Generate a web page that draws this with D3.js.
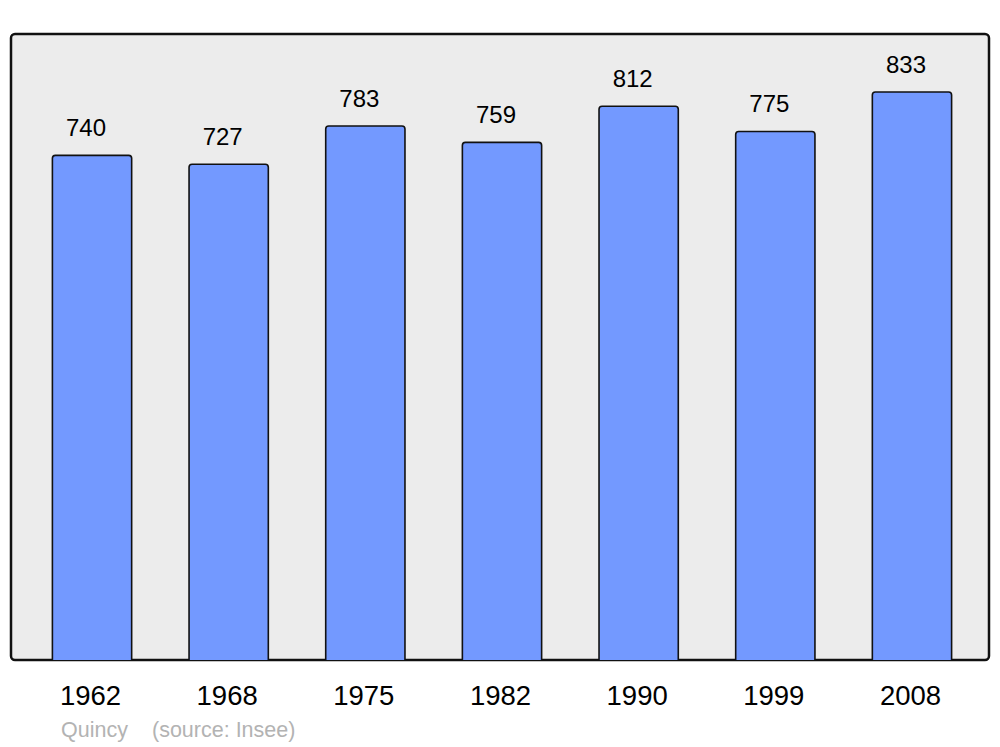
<!DOCTYPE html>
<html>
<head>
<meta charset="utf-8">
<script src="https://cdn.jsdelivr.net/npm/d3@7"></script>
<style>
	body { margin: 0; background: #fff; }
	text { font-family: "Liberation Sans", Arial, sans-serif; }
</style>
</head>
<body>
<svg id="chart" width="1000" height="747"></svg>
<script>
const years = ["1962", "1968", "1975", "1982", "1990", "1999", "2008"];
const population = [740, 727, 783, 759, 812, 775, 833];
const townName = "Quincy";
const sourceNote = "(source: Insee)";

const svg = d3.select("#chart");

const box = { left: 11, top: 34, right: 989, bottom: 660 };

// x positions of the bars
const x = d3.scaleBand()
	.domain(years)
	.range([23.7, 980.3])
	.paddingInner(0.42)
	.paddingOuter(0.21);

// population scale, starts at zero
const y = d3.scaleLinear()
	.domain([0, d3.max(population) * 1.102])
	.range([box.bottom, box.top]);

svg.append("rect")
	.attr("x", box.left)
	.attr("y", box.top)
	.attr("width", box.right - box.left)
	.attr("height", box.bottom - box.top)
	.attr("rx", 4)
	.attr("fill", "#ececec")
	.attr("stroke", "#111")
	.attr("stroke-width", 2.5);

const data = years.map((yr, i) => ({ year: yr, value: population[i] }));

svg.selectAll(".bar")
	.data(data)
	.enter().append("path")
	.attr("class", "bar")
	.attr("d", d => {
		// rounded top corners only
		const x0 = x(d.year), x1 = x0 + x.bandwidth();
		const y0 = y(d.value), y1 = box.bottom, r = 3;
		return `M${x0},${y1} L${x0},${y0 + r} Q${x0},${y0} ${x0 + r},${y0} L${x1 - r},${y0} Q${x1},${y0} ${x1},${y0 + r} L${x1},${y1}`;
	})
	.attr("fill", "#7399ff")
	.attr("stroke", "#111")
	.attr("stroke-width", 1.6);

// value labels above bars
svg.selectAll(".value")
	.data(data)
	.enter().append("text")
	.attr("class", "value")
	.attr("x", d => x(d.year) + x.bandwidth() / 2 - 6)
	.attr("y", d => y(d.value) - 19)
	.attr("text-anchor", "middle")
	.attr("font-size", 24)
	.attr("fill", "#000")
	.text(d => d.value);

// year labels under the box
svg.selectAll(".year")
	.data(data)
	.enter().append("text")
	.attr("class", "year")
	.attr("x", d => x(d.year) + x.bandwidth() / 2 - 1.5)
	.attr("y", 705)
	.attr("text-anchor", "middle")
	.attr("font-size", 27.5)
	.attr("fill", "#000")
	.text(d => d.year);

svg.append("text")
	.attr("x", 61)
	.attr("y", 737)
	.attr("font-size", 21.5)
	.attr("fill", "#b3b3b3")
	.text(townName);

svg.append("text")
	.attr("x", 152)
	.attr("y", 737)
	.attr("font-size", 21.5)
	.attr("fill", "#b3b3b3")
	.text(sourceNote);
</script>
</body>
</html>
